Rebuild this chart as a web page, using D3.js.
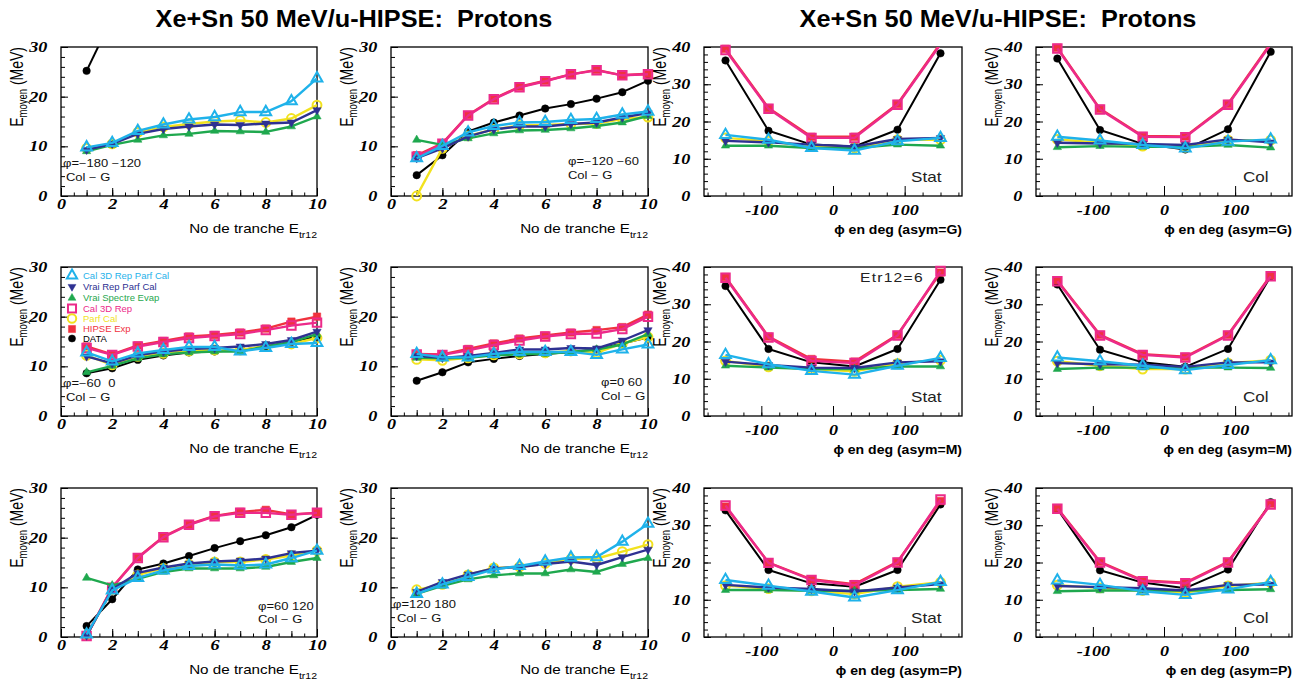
<!DOCTYPE html>
<html><head><meta charset="utf-8">
<script src="https://cdn.jsdelivr.net/npm/d3@7"></script>
<style>body{margin:0;background:#fff}svg text{white-space:pre}</style>
</head><body><svg id="c" width="1304" height="685"></svg>
<script>
// ---------- data ----------
const xTranche = [1,2,3,4,5,6,7,8,9,10];
const xPhi = [-150,-90,-30,30,90,150];
const xTicksTranche = [0,2,4,6,8,10];
const yTicksTranche = [0,10,20,30];
const xTicksPhi = [-100,0,100];
const yTicksPhi = [0,10,20,30,40];
const seriesNames = ["Cal 3D Rep Parf Cal","Vrai Rep Parf Cal","Vrai Spectre Evap","Cal 3D Rep","Parf Cal","HIPSE Exp","DATA"];
const titleText = "Xe+Sn 50 MeV/u-HIPSE:  Protons";
// panel order: row1 c1..c4, row2 c1..c4, row3 c1..c4
const phiLabels = ["φ=−180 −120","φ=−120 −60",null,null,"φ=−60  0","φ=0 60",null,null,"φ=60 120","φ=120 180",null,null];
const calLabels = ["Col − G","Col − G",null,null,"Col − G","Col − G",null,null,"Col − G","Col − G",null,null];
const methodLabels = [null,null,"Stat","Col",null,null,"Stat","Col",null,null,"Stat","Col"];
const asymLabels = ["G","M","P"];

const cal3dRepParfCal = [
 [9.8,10.7,13.1,14.4,15.4,15.9,16.9,16.9,19.1,23.7],
 [7.6,10.1,12.8,14.1,14.8,14.9,15.3,15.5,16.4,17.0],
 [16.4,15.1,12.9,12.2,14.7,15.6],
 [15.9,14.9,13.7,12.8,14.6,15.2],
 [12.8,11.0,12.6,13.3,13.9,13.9,13.0,13.7,14.5,14.7],
 [12.5,11.8,11.8,12.5,12.9,12.9,12.9,12.3,13.4,14.4],
 [16.4,13.9,12.1,11.1,13.5,15.6],
 [15.7,14.7,13.5,12.3,13.7,15.0],
 [0.5,9.4,11.9,13.4,14.3,14.6,14.4,14.6,15.9,17.4],
 [8.7,10.6,12.1,13.6,14.3,15.2,16.0,16.1,19.2,22.8],
 [15.3,13.8,12.2,10.6,12.6,14.8],
 [15.2,14.0,12.3,11.3,12.8,14.8]];
const vraiRepParfCal = [
 [9.3,10.5,12.5,13.5,14.0,14.4,14.3,14.6,14.8,17.3],
 [7.6,9.6,12.0,13.4,14.0,14.0,14.5,14.8,15.8,16.7],
 [14.8,14.4,13.8,13.3,15.3,15.6],
 [14.3,14.1,14.0,13.7,15.2,14.4],
 [12.0,10.6,12.2,13.0,13.5,13.7,14.0,14.5,15.3,17.0],
 [12.1,11.7,12.1,12.7,13.4,13.4,13.7,13.6,15.2,17.3],
 [14.6,13.7,13.0,12.9,14.4,14.7],
 [14.2,13.9,13.8,13.2,14.4,14.4],
 [0.3,9.6,12.9,14.0,14.8,15.2,15.4,15.8,16.9,17.4],
 [9.1,11.1,12.6,13.8,14.1,14.7,15.2,14.5,16.1,17.6],
 [14.0,13.3,12.9,12.2,13.3,14.2],
 [13.7,13.4,13.1,12.5,14.0,14.1]];
const vraiSpectreEvap = [
 [9.0,10.3,11.3,12.2,12.5,13.1,13.0,12.9,14.0,16.0],
 [11.3,10.3,11.6,12.6,13.2,13.3,13.6,14.1,14.8,16.1],
 [13.5,13.5,12.9,12.9,13.8,13.5],
 [13.1,13.4,13.2,13.2,13.7,13.0],
 [8.8,10.1,11.6,12.4,12.8,13.0,13.0,14.0,14.9,16.5],
 [11.7,11.6,11.7,12.2,12.4,12.5,12.9,13.4,14.4,16.5],
 [13.5,13.0,12.6,12.6,13.3,13.3],
 [12.6,13.0,13.0,13.0,13.0,12.9],
 [11.9,10.4,11.7,13.1,13.8,13.8,13.8,14.1,15.1,15.9],
 [8.7,10.3,11.6,12.4,12.8,12.8,13.6,13.1,14.7,15.9],
 [12.6,12.6,12.4,12.4,12.6,12.9],
 [12.3,12.5,12.5,12.5,12.6,12.8]];
const cal3dRep = [
 null,
 [7.9,10.5,16.2,19.5,21.9,23.1,24.5,25.3,24.3,24.5],
 [39.2,23.4,15.6,15.6,24.5,40.7],
 [39.6,23.2,15.9,15.8,24.5,40.7],
 [13.7,12.3,14.0,14.9,15.7,16.1,16.5,17.3,18.2,18.8],
 [12.4,12.3,13.2,14.3,15.2,16.0,16.5,16.6,17.5,20.0],
 [37.1,21.1,14.8,14.2,21.6,38.9],
 [36.2,21.6,16.4,15.7,21.6,37.5],
 [0.2,9.9,15.9,20.1,22.6,24.3,25.0,25.0,24.6,25.0],
 null,
 [35.3,19.9,15.3,13.9,20.0,36.9],
 [34.4,20.0,15.0,14.4,20.0,35.6]];
const parfCal = [
 [9.6,10.5,12.8,13.9,14.5,15.0,15.2,14.8,15.6,18.3],
 [0.0,9.6,12.1,13.4,14.2,14.3,14.5,14.6,15.5,15.9],
 [15.6,14.7,13.3,12.9,15.1,15.1],
 [15.2,14.3,13.4,13.1,15.0,15.0],
 [12.2,10.3,12.0,12.6,13.1,13.3,13.3,14.0,14.5,15.7],
 [11.4,11.2,11.7,12.3,12.5,12.7,13.1,12.7,14.6,15.9],
 [14.8,13.2,12.6,12.0,14.1,15.0],
 [14.7,13.5,12.6,12.6,14.2,15.0],
 [0.3,9.6,12.5,13.8,14.6,15.1,15.1,15.6,16.4,17.4],
 [9.5,10.6,12.5,13.9,14.1,14.8,15.7,15.8,17.2,18.6],
 [13.8,13.0,12.4,11.5,13.5,14.7],
 [13.9,13.2,12.5,11.9,13.7,14.6]];
const hipseExp = [
 null,
 [8.2,10.6,16.3,19.6,22.0,23.2,24.5,25.4,24.3,24.6],
 [39.5,23.6,15.9,15.9,24.7,41.0],
 [39.8,23.4,16.1,16.0,24.7,41.0],
 [14.0,12.4,14.2,15.1,16.0,16.3,16.8,17.6,19.0,20.0],
 [12.5,12.4,13.5,14.6,15.6,16.2,16.8,17.3,17.9,20.4],
 [37.3,21.3,15.3,14.6,21.8,38.5],
 [36.4,21.8,16.6,15.9,21.8,37.7],
 [0.2,10.0,16.0,20.2,22.7,24.4,25.2,25.6,24.7,25.0],
 null,
 [35.0,20.0,15.5,14.2,20.2,36.5],
 [34.6,20.2,15.2,14.6,20.2,35.8]];
const dataExp = [
 [25.2,35.9,null,null,null,null,null,null,null,null],
 [4.2,8.2,13.0,14.8,16.2,17.6,18.5,19.6,20.9,23.2],
 [36.4,17.5,13.8,13.3,17.8,38.3],
 [36.9,17.7,14.0,12.5,17.9,38.7],
 [8.6,9.6,11.3,12.2,12.8,13.0,13.3,14.0,14.9,16.0],
 [7.1,8.8,10.8,11.5,12.1,12.5,12.9,13.4,14.6,15.8],
 [34.9,18.0,14.4,13.3,18.0,36.6],
 [35.3,17.8,14.4,13.2,18.0,37.5],
 [2.2,7.6,13.6,14.8,16.3,17.9,19.3,20.5,22.1,24.6],
 null,
 [34.0,18.0,14.4,13.5,18.0,35.6],
 [34.4,17.9,14.6,13.1,18.1,36.2]];

// ---------- style ----------
const seriesData = [cal3dRepParfCal, vraiRepParfCal, vraiSpectreEvap, cal3dRep, parfCal, hipseExp, dataExp];
const colors = ["#1fb2ea","#2e3192","#1fa84e","#ec2a8a","#f2e21e","#f0323e","#000000"];
const markers = [
 {type:d3.symbolTriangle, size:50, open:true, rot:0},
 {type:d3.symbolTriangle, size:30, open:false, rot:180},
 {type:d3.symbolTriangle, size:30, open:false, rot:0},
 {type:d3.symbolSquare, size:72, open:true, rot:0},
 {type:d3.symbolCircle, size:62, open:true, rot:0},
 {type:d3.symbolSquare, size:56, open:false, rot:0},
 {type:d3.symbolCircle, size:44, open:false, rot:0}];
const lineW = [2.4,2.4,2.4,2.4,2.4,2.4,2];
const drawOrder = [6,5,4,3,2,1,0];

const colLeft = [61,391,704,1036], colRight = [317,648,962,1292];
const rowTop = [47,267,488], rowBottom = [196,416,637];
const SX = 1.25;
const SANS = "'Liberation Sans', Arial, Helvetica, sans-serif";
const SERIF = "'Liberation Serif', 'Times New Roman', serif";

const svg = d3.select('#c');
svg.append('rect').attr('width',1304).attr('height',685).attr('fill','#fff');
const defs = svg.append('defs');

function stext(g, x, y, parts, o) {
  const t = g.append('text')
    .attr('transform', `translate(${x},${y}) scale(${o.sx||SX},1)` + (o.rot ? ' rotate(-90)' : ''))
    .attr('text-anchor', o.anchor || 'start')
    .attr('font-family', o.family || SANS)
    .attr('font-size', o.size)
    .attr('font-weight', o.weight || 'normal')
    .attr('font-style', o.style || 'normal')
    .attr('fill', o.fill || '#000');
  if (o.ls) t.attr('letter-spacing', o.ls);
  parts.forEach(p => {
    const ts = t.append('tspan').text(p.t);
    if (p.size) ts.attr('font-size', p.size);
    if (p.dy) ts.attr('dy', p.dy);
  });
  return t;
}

// titles
stext(svg, 354, 27, [{t:titleText}], {size:23, weight:'bold', anchor:'middle', sx:1.1});
stext(svg, 998, 27, [{t:titleText}], {size:23, weight:'bold', anchor:'middle', sx:1.1});

for (let i = 0; i < 12; i++) {
  const r = Math.floor(i/4), c = i % 4;
  const L = colLeft[c], R = colRight[c], T = rowTop[r], B = rowBottom[r];
  const phi = c >= 2;
  const xs = phi ? xPhi : xTranche;
  const x = d3.scaleLinear().domain(phi ? [-180,180] : [0,10]).range([L,R]);
  const y = d3.scaleLinear().domain(phi ? [0,40] : [0,30]).range([B,T]);
  const g = svg.append('g');

  // frame
  g.append('rect').attr('x',L).attr('y',T).attr('width',R-L).attr('height',B-T)
    .attr('fill','none').attr('stroke','#000').attr('stroke-width',1.3);

  // axes
  const styleAxis = (sel) => {
    sel.select('.domain').remove();
    sel.selectAll('line').attr('stroke','#000').attr('stroke-width',1);
    sel.selectAll('text').attr('font-family',SERIF).attr('font-weight','bold')
      .attr('font-style','italic').attr('font-size',14.5).attr('fill','#000')
      .attr('transform',`scale(${SX},1)`);
  };
  const fmt = d => String(d);
  let xMinor, xMid, xMajor;
  if (phi) {
    xMinor = d3.range(-175,176,25);
    xMajor = xTicksPhi;
  } else {
    xMinor = d3.range(0,10.01,0.5);
    xMid = d3.range(0,10.01,1);
    xMajor = xTicksTranche;
  }
  g.append('g').attr('transform',`translate(0,${B})`)
    .call(d3.axisBottom(x).tickValues(xMinor).tickFormat(()=>'').tickSizeInner(-3.5).tickSizeOuter(0))
    .call(styleAxis);
  if (xMid) g.append('g').attr('transform',`translate(0,${B})`)
    .call(d3.axisBottom(x).tickValues(xMid).tickFormat(()=>'').tickSizeInner(-6).tickSizeOuter(0))
    .call(styleAxis);
  g.append('g').attr('transform',`translate(0,${B})`)
    .call(d3.axisBottom(x).tickValues(xMajor).tickFormat(fmt).tickSizeInner(phi?-10:-8).tickSizeOuter(0).tickPadding(phi?9:3))
    .call(styleAxis);
  const yMax = phi ? 40 : 30;
  g.append('g').attr('transform',`translate(${L},0)`)
    .call(d3.axisLeft(y).tickValues(d3.range(0,yMax+0.1,2)).tickFormat(()=>'').tickSizeInner(-4).tickSizeOuter(0))
    .call(styleAxis);
  g.append('g').attr('transform',`translate(${L},0)`)
    .call(d3.axisLeft(y).tickValues(phi ? yTicksPhi : yTicksTranche).tickFormat(fmt).tickSizeInner(-7).tickSizeOuter(0).tickPadding(11))
    .call(styleAxis);

  // axis titles
  stext(g, L-38, T, [{t:'E'},{t:'moyen',size:9.5,dy:3},{t:' (MeV)',size:14,dy:-3}], {size:14, anchor:'end', rot:true, sx:1.3});
  if (phi) {
    stext(g, R, B+38, [{t:'ϕ en deg (asym='+asymLabels[r]+')'}], {size:13, weight:'bold', anchor:'end', sx:1.08});
  } else {
    stext(g, R, B+37, [{t:'No de tranche E'},{t:'tr12',size:9,dy:5}], {size:13, anchor:'end', sx:1.17});
  }

  // clip
  const cid = 'clip'+i;
  defs.append('clipPath').attr('id',cid).append('rect').attr('x',L).attr('y',T).attr('width',R-L).attr('height',B-T);

  // series
  drawOrder.forEach(s => {
    const vals = seriesData[s][i];
    if (!vals) return;
    const pts = xs.map((xv,k)=>[xv, vals[k]]);
    const line = d3.line().defined(d=>d[1]!=null).x(d=>x(d[0])).y(d=>y(d[1]));
    g.append('path').attr('d', line(pts)).attr('fill','none').attr('stroke',colors[s])
      .attr('stroke-width',lineW[s]).attr('stroke-linejoin','round').attr('clip-path',`url(#${cid})`);
    const m = markers[s];
    const sym = d3.symbol().type(m.type).size(m.size);
    g.selectAll(null).data(pts.filter(d=>d[1]!=null && d[1]>=0 && d[1]<=yMax)).enter().append('path')
      .attr('d', sym)
      .attr('transform', d=>`translate(${x(d[0])},${y(d[1])}) rotate(${m.rot})`)
      .attr('fill', m.open ? 'none' : colors[s])
      .attr('stroke', colors[s]).attr('stroke-width', m.open ? 2 : 0.5);
  });

  // labels
  if (phiLabels[i]) {
    let px, p1, p2, cx;
    if (i===0 || i===4) { px = L+2; cx = L+5; p1 = T+120; p2 = T+134; }
    else if (i===1) { px = L+177; cx = px; p1 = T+118; p2 = T+132; }
    else if (i===5) { px = L+210; cx = px; p1 = T+119; p2 = T+133; }
    else if (i===8) { px = L+197; cx = px; p1 = T+122; p2 = T+135; }
    else { px = L+2; cx = L+6; p1 = T+120; p2 = T+134; }
    stext(g, px, p1, [{t:phiLabels[i]}], {size:10, sx:1.3, fill:'#111'});
    stext(g, cx, p2, [{t:calLabels[i]}], {size:10, sx:1.3, fill:'#111'});
  }
  if (methodLabels[i]) {
    stext(g, L+207, B-14, [{t:methodLabels[i]}], {size:14, sx:1.22, fill:'#222'});
  }
  if (i===6) {
    stext(g, L+156, T+15, [{t:'Etr12=6'}], {size:12.5, sx:1.25, fill:'#222', ls:1});
  }
  if (i===4) {
    const ly = [275.5,286.7,298,308.5,318.5,329,338.5];
    seriesNames.forEach((nm,s)=>{
      const m = markers[s];
      g.append('path').attr('d', d3.symbol().type(m.type).size(m.size*0.9))
        .attr('transform',`translate(${L+11},${ly[s]}) rotate(${m.rot})`)
        .attr('fill', m.open ? 'none' : colors[s]).attr('stroke',colors[s]).attr('stroke-width', m.open?2:0.5);
      stext(g, L+22, ly[s]+3.2, [{t:nm}], {size:8.5, sx:1.12, fill:colors[s]});
    });
  }
}
</script>
</body></html>
